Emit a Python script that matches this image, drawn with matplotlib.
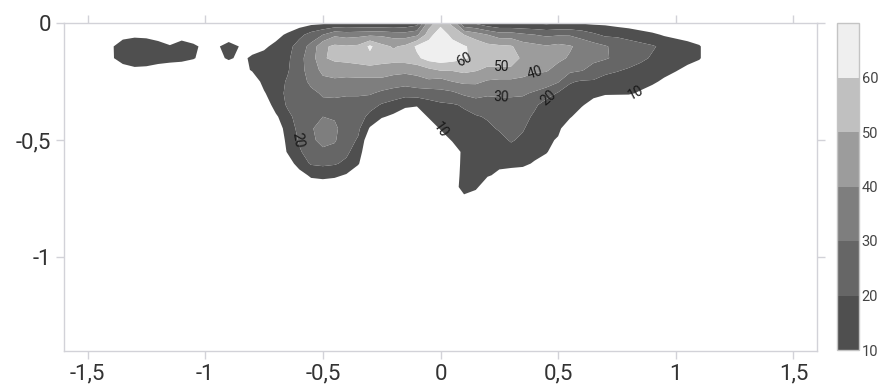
import numpy as np
import matplotlib
matplotlib.use('Agg')
import matplotlib.pyplot as plt
import matplotlib.ticker as ticker

# grid the density was read on (x: -1.45 .. 1.15, y: 0 .. -0.8, step 0.05)
X_COORDS = np.linspace(-1.45, 1.15, 53)
Y_COORDS = np.linspace(0.0, -0.8, 17)

LEVELS = [10, 20, 30, 40, 50, 60, 70]
LEVEL_COLORS = ['#4f4f4f', '#666666', '#7e7e7e', '#9c9c9c', '#c0c0c0', '#efefef']
X_TICKS = [-1.5, -1, -0.5, 0, 0.5, 1, 1.5]
Y_TICKS = [0, -0.5, -1]

# one row per y value, one column per x value
DENSITY = [
    [0, 0, 0, 0, 0, 0, 0, 0, 0, 0, 0, 0, 0, 0, 0, 0, 0, 5, 7, 8, 9, 9, 9, 9, 9, 9, 11, 15, 45, 56, 48, 20, 18, 12, 9, 9, 9, 9, 8, 9, 9, 9, 8, 8, 6, 5, 3, 1, 0, 0, 0, 0, 0],
    [0, 0, 5, 7, 6, 3, 2, 4, 0, 0, 0, 0, 0, 0, 0, 6, 12, 17, 24, 30, 38, 36, 37, 38, 38, 36, 35, 38, 55, 68, 56, 50, 45, 40, 35, 35, 32, 30, 28, 29, 29, 26, 22, 18, 18, 16, 14, 12, 9, 7, 5, 3, 0],
    [0, 8, 17, 19, 19, 16, 11, 16, 13, 6, 8, 16, 9, 5, 8, 13, 16, 25, 33, 48, 52, 51, 52, 62, 53, 49, 52, 62, 66, 68, 66, 61, 57, 53, 52, 51, 45, 43, 41, 43, 41, 37, 34, 31, 27, 25, 23, 21, 18, 16, 14, 11, 3],
    [0, 8, 16, 19, 19, 17, 15, 14, 11, 5, 6, 12, 7, 12, 14, 15, 18, 27, 35, 49, 52, 53, 54, 57, 54, 54, 55, 58, 64, 66, 64, 61, 58, 55, 55, 55, 48, 46, 44, 42, 39, 36, 33, 31, 28, 25, 22, 19, 17, 16, 14, 11, 3],
    [0, 0, 4, 7, 6, 3, 2, 1, 0, 0, 0, 0, 6, 11, 15, 16, 19, 27, 34, 43, 45, 45, 46, 46, 46, 44, 43, 44, 48, 51, 51, 53, 51, 48, 48, 48, 45, 42, 41, 37, 33, 31, 26, 23, 21, 19, 17, 16, 14, 11, 7, 4, 0],
    [0, 0, 0, 0, 0, 0, 0, 0, 0, 0, 0, 0, 0, 4, 13, 16, 21, 26, 32, 37, 38, 37, 37, 37, 37, 35, 34, 36, 38, 36, 40, 42, 42, 39, 38, 38, 37, 35, 35, 31, 21, 19, 19, 16, 15, 14, 13, 12, 8, 4, 0, 0, 0],
    [0, 0, 0, 0, 0, 0, 0, 0, 0, 0, 0, 0, 0, 0, 9, 16, 22, 25, 28, 31, 32, 31, 31, 31, 28, 26, 24, 25, 25, 27, 28, 32, 33, 31, 31, 31, 31, 29, 25, 19, 16, 14, 13, 11, 11, 11, 9, 5, 0, 0, 0, 0, 0],
    [0, 0, 0, 0, 0, 0, 0, 0, 0, 0, 0, 0, 0, 0, 2, 15, 21, 24, 27, 28, 27, 27, 27, 24, 19, 16, 12, 11, 16, 18, 19, 21, 26, 27, 28, 28, 27, 22, 15, 15, 13, 11, 6, 4, 3, 2, 0, 0, 0, 0, 0, 0, 0],
    [0, 0, 0, 0, 0, 0, 0, 0, 0, 0, 0, 0, 0, 0, 0, 8, 18, 23, 28, 30, 29, 26, 25, 17, 11, 8, 4, 3, 11, 15, 17, 18, 19, 21, 24, 26, 24, 18, 15, 13, 11, 5, 0, 0, 0, 0, 0, 0, 0, 0, 0, 0, 0],
    [0, 0, 0, 0, 0, 0, 0, 0, 0, 0, 0, 0, 0, 0, 0, 1, 16, 22, 29, 34, 32, 25, 22, 9, 2, 1, 0, 0, 3, 11, 13, 17, 18, 18, 21, 23, 21, 15, 13, 12, 4, 0, 0, 0, 0, 0, 0, 0, 0, 0, 0, 0, 0],
    [0, 0, 0, 0, 0, 0, 0, 0, 0, 0, 0, 0, 0, 0, 0, 0, 13, 21, 28, 33, 31, 24, 19, 2, 0, 0, 0, 0, 0, 3, 11, 16, 17, 16, 17, 21, 18, 14, 12, 9, 0, 0, 0, 0, 0, 0, 0, 0, 0, 0, 0, 0, 0],
    [0, 0, 0, 0, 0, 0, 0, 0, 0, 0, 0, 0, 0, 0, 0, 0, 11, 19, 24, 28, 27, 22, 15, 0, 0, 0, 0, 0, 0, 0, 3, 13, 17, 14, 15, 16, 15, 13, 11, 3, 0, 0, 0, 0, 0, 0, 0, 0, 0, 0, 0, 0, 0],
    [0, 0, 0, 0, 0, 0, 0, 0, 0, 0, 0, 0, 0, 0, 0, 0, 4, 15, 21, 22, 21, 18, 11, 0, 0, 0, 0, 0, 0, 0, 0, 15, 17, 13, 12, 13, 12, 9, 4, 0, 0, 0, 0, 0, 0, 0, 0, 0, 0, 0, 0, 0, 0],
    [0, 0, 0, 0, 0, 0, 0, 0, 0, 0, 0, 0, 0, 0, 0, 0, 0, 5, 12, 13, 12, 9, 3, 0, 0, 0, 0, 0, 0, 0, 2, 15, 15, 11, 8, 5, 5, 3, 0, 0, 0, 0, 0, 0, 0, 0, 0, 0, 0, 0, 0, 0, 0],
    [0, 0, 0, 0, 0, 0, 0, 0, 0, 0, 0, 0, 0, 0, 0, 0, 0, 0, 3, 4, 3, 2, 0, 0, 0, 0, 0, 0, 0, 0, 4, 15, 12, 3, 2, 0, 0, 0, 0, 0, 0, 0, 0, 0, 0, 0, 0, 0, 0, 0, 0, 0, 0],
    [0, 0, 0, 0, 0, 0, 0, 0, 0, 0, 0, 0, 0, 0, 0, 0, 0, 0, 0, 0, 0, 0, 0, 0, 0, 0, 0, 0, 0, 0, 0, 7, 4, 0, 0, 0, 0, 0, 0, 0, 0, 0, 0, 0, 0, 0, 0, 0, 0, 0, 0, 0, 0],
    [0, 0, 0, 0, 0, 0, 0, 0, 0, 0, 0, 0, 0, 0, 0, 0, 0, 0, 0, 0, 0, 0, 0, 0, 0, 0, 0, 0, 0, 0, 0, 0, 0, 0, 0, 0, 0, 0, 0, 0, 0, 0, 0, 0, 0, 0, 0, 0, 0, 0, 0, 0, 0],
]

# contour labels: level and where it sits
LABEL_LEVELS = [60, 50, 40, 30, 20, 10, 10, 20]
LABEL_SPOTS = [(0.10, -0.16), (0.26, -0.19), (0.40, -0.21), (0.26, -0.31),
               (0.45, -0.31), (0.83, -0.30), (-0.01, -0.46), (-0.61, -0.50)]

GRID_COLOR = '#d2d2d8'
TEXT_COLOR = '#333333'


def comma_fmt(v, pos):
    return ('%g' % v).replace('.', ',')


plt.rcParams['font.family'] = ['Roboto', 'DejaVu Sans']

fig = plt.figure(figsize=(8.83, 3.87), dpi=100)
ax = fig.add_axes([64 / 883, 1 - 351 / 387, 753 / 883, 328 / 387])
cax = fig.add_axes([837 / 883, 1 - 350 / 387, 22 / 883, 327 / 387])

xx, yy = np.meshgrid(X_COORDS, Y_COORDS)
zz = np.array(DENSITY, dtype=float)

cf = ax.contourf(xx, yy, zz, levels=LEVELS, colors=LEVEL_COLORS, antialiased=True)

# invisible single-level contours, only used to place the inline labels
for level, spot in zip(LABEL_LEVELS, LABEL_SPOTS):
    cs = ax.contour(xx, yy, zz, levels=[level], colors='none')
    ax.clabel(cs, manual=[spot], inline=False, fontsize=10,
              colors='#1a1a1a', fmt='%d')

ax.set_xlim(-1.6, 1.6)
ax.set_ylim(-1.4, 0)
ax.set_xticks(X_TICKS)
ax.set_yticks(Y_TICKS)
ax.xaxis.set_major_formatter(ticker.FuncFormatter(comma_fmt))
ax.yaxis.set_major_formatter(ticker.FuncFormatter(comma_fmt))
ax.tick_params(direction='out', length=6, width=1, color=GRID_COLOR,
               top=True, right=True, labeltop=False, labelright=False,
               labelsize=16, labelcolor=TEXT_COLOR, pad=3)
for spine in ax.spines.values():
    spine.set_color(GRID_COLOR)
    spine.set_linewidth(1)

cbar = fig.colorbar(cf, cax=cax, ticks=LEVELS[:-1])
cbar.outline.set_edgecolor('#c4c4c4')
cbar.outline.set_linewidth(1)
cax.tick_params(length=0, labelsize=10.5, labelcolor='#444444', pad=2)

fig.savefig('out.png', dpi=100)
